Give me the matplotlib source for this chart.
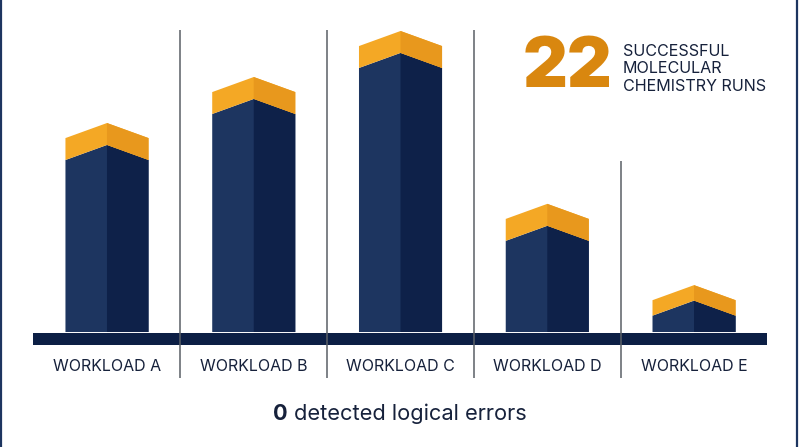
import matplotlib
matplotlib.use("Agg")
import matplotlib.pyplot as plt
from matplotlib.patches import Polygon, Rectangle

# data
workloads = ["WORKLOAD A", "WORKLOAD B", "WORKLOAD C", "WORKLOAD D", "WORKLOAD E"]
runs = [4.86, 5.93, 7.0, 2.98, 1.09]   # bar heights
total_runs = "22"
errors = "0"

# colours
NAVY_L = "#1d3560"
NAVY_R = "#0e2149"
ORANGE_L = "#f4a825"
ORANGE_R = "#e8981d"
BASE = "#0c1f45"
TEXT = "#16213b"
BIG = "#d9870f"

plt.rcParams['font.family'] = ['Inter', 'DejaVu Sans']

fig = plt.figure(figsize=(8, 4.47), dpi=100)
ax = fig.add_axes([0, 0, 1, 1])
ax.set_xlim(-0.729, 4.722)
ax.set_ylim(-2.674, 7.721)
ax.axis('off')

half_w = 0.283
rise = 0.35

for i, v in enumerate(runs):
    x = i
    cap = min(0.51, 0.33 * v)
    side_top = v - rise
    # body: whole front in light navy, right face laid over it
    ax.add_patch(Polygon([(x - half_w, 0), (x + half_w, 0), (x + half_w, side_top - cap),
                          (x, v - cap), (x - half_w, side_top - cap)],
                         closed=True, fc=NAVY_L, ec='none'))
    ax.add_patch(Polygon([(x, 0), (x + half_w, 0), (x + half_w, side_top - cap), (x, v - cap)],
                         closed=True, fc=NAVY_R, ec='none'))
    # orange cap
    ax.add_patch(Polygon([(x - half_w, side_top), (x, v), (x + half_w, side_top),
                          (x + half_w, side_top - cap), (x, v - cap), (x - half_w, side_top - cap)],
                         closed=True, fc=ORANGE_L, ec='none'))
    ax.add_patch(Polygon([(x, v), (x + half_w, side_top), (x + half_w, side_top - cap), (x, v - cap)],
                         closed=True, fc=ORANGE_R, ec='none'))
    ax.text(x, -0.81, workloads[i], ha='center', va='center', fontsize=11.5, color=TEXT)

# base plate
ax.add_patch(Rectangle((-0.504, -0.3), 5.0, 0.28, fc=BASE, ec='none'))

# separators
sep_tops = [7.02, 7.02, 7.02, 3.98]
for i, top in enumerate(sep_tops):
    ax.plot([i + 0.5, i + 0.5], [-1.07, top], color="#5a5f66", lw=1.1, solid_capstyle='butt')

# headline number
ax.text(2.83, 6.12, total_runs, ha='left', va='center', fontsize=50, fontweight='black', color=BIG)
ax.text(3.515, 6.12, "SUCCESSFUL\nMOLECULAR\nCHEMISTRY RUNS", ha='left', va='center',
        fontsize=11.6, color=TEXT, linespacing=1.2)

# footnote
ax.text(1.131, -2.05, errors, ha='left', va='baseline', fontsize=15.7, fontweight='bold', color=TEXT)
ax.text(1.274, -2.05, "detected logical errors", ha='left', va='baseline', fontsize=15.7, color=TEXT)

# side frame lines
fig.add_artist(plt.Line2D([0.0015, 0.0015], [0, 1], color=NAVY_L, lw=1.6))
fig.add_artist(plt.Line2D([0.9965, 0.9965], [0, 1], color=NAVY_L, lw=1.6))

fig.savefig("out.png", dpi=100, facecolor="white")
